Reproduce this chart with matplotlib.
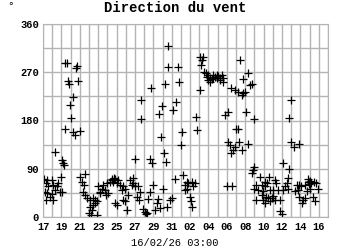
import matplotlib
matplotlib.use("Agg")
import matplotlib.pyplot as plt
from matplotlib.ticker import MultipleLocator

# days since 17/01 00:00, wind direction in degrees
days_a = [0.1, 0.47, 0.95, 0.3, 0.58, 1.12, 1.49, 1.66, 1.92, 1.3, 1.85, 0.22,
          0.4, 0.95, 0.33, 1.05, 0.76, 2.03, 1.3, 2.03, 2.15, 2.3]
dirs_a = [70, 69, 69, 63, 57, 60, 57, 63, 75, 50, 47, 47,
          44, 43, 32, 32, 38, 47, 122, 106, 101, 97]

days_b = [2.39, 2.61, 2.72, 2.83, 2.97, 3.04, 3.29, 3.59, 3.66, 3.84, 2.39, 3.26, 3.48, 4.02]
dirs_b = [288, 288, 254, 249, 209, 185, 224, 277, 282, 254, 164, 158, 153, 160]

days_c = [4.02, 4.57, 4.27, 4.46, 4.32, 4.57, 4.82, 5.11, 5.47, 5.65, 5.11, 5.29,
          5.03, 5.18, 5.84, 6.2, 6.01, 6.38, 6.55, 6.74, 7.1, 6.92, 7.28, 7.47,
          7.72, 5.6, 5.4, 5.85, 6.2, 6.9]
dirs_c = [74, 81, 66, 60, 47, 41, 35, 32, 35, 32, 18, 13,
          7, 4, 4, 47, 57, 53, 60, 50, 44, 63, 66, 69,
          72, 26, 22, 30, 44, 41]

days_d = [7.47, 7.83, 8.18, 7.64, 8.01, 8.37, 8.66, 8.55, 8.91, 9.46, 9.75, 9.64,
          10.0, 10.36, 10.54, 10.18, 10.47, 9.1, 8.73, 9.27, 10.9, 11.09, 11.27,
          11.2, 11.63, 11.45, 11.99, 12.53, 12.36, 12.17, 13.08, 13.8, 13.99,
          14.35, 9.82, 7.83, 8.01, 8.9, 12.7, 13.5]
dirs_d = [70, 70, 69, 66, 63, 60, 57, 50, 53, 69, 64, 60,
          57, 57, 47, 38, 32, 13, 32, 41, 14, 10, 8,
          6, 47, 33, 60, 33, 26, 13, 53, 32, 35,
          70, 72, 26, 22, 29, 16, 18]

days_e = [10.0, 11.6, 11.9, 10.7, 10.7, 11.8, 12.6, 12.9, 12.8, 13.2, 13.4, 13.3,
          13.6, 13.6, 14.7, 14.8, 14.1, 14.5, 15.1, 15.0]
dirs_e = [108, 108, 100, 218, 182, 240, 192, 207, 150, 119, 103, 249,
          319, 279, 279, 251, 200, 215, 158, 134]

days_f = [15.25, 15.62, 15.79, 15.43, 16.16, 16.52, 16.34, 15.43, 15.62, 15.98,
          16.05, 16.16, 16.8, 17.1, 17.4, 17.3, 17.2, 17.5, 17.1, 16.6]
dirs_f = [78, 66, 63, 60, 66, 63, 57, 50, 53, 37,
          29, 19, 162, 299, 298, 292, 283, 271, 236, 187]

days_g = [17.72, 17.97, 18.15, 17.97, 18.34, 18.51, 18.7, 18.88, 19.05, 19.24,
          19.42, 19.6, 18.15, 19.24, 19.6, 17.79, 18.51, 18.88]
dirs_g = [268, 265, 260, 255, 257, 265, 262, 259, 263, 260,
          265, 260, 252, 255, 252, 262, 259, 265]

days_h = [20.5, 20.9, 21.2, 21.6, 21.96, 21.77, 21.77, 22.3, 22.5, 21.4, 22.1,
          19.8, 20.1, 23.0, 20.1, 20.3, 20.9, 20.7, 20.5, 21.3, 21.6, 22.3,
          21.0, 21.2, 20.0, 20.6]
dirs_h = [240, 237, 234, 228, 234, 231, 257, 268, 246, 293, 196,
          190, 196, 182, 140, 134, 131, 125, 119, 140, 125, 136,
          165, 164, 57, 57]

days_i = [22.7, 22.9, 22.7, 22.8, 23.6, 24.1, 24.4, 24.6, 25.2, 23.2, 23.8,
          24.2, 24.7, 23.4, 23.0, 23.9, 25.0, 25.6, 25.4, 26.1, 26.3, 26.7,
          26.5, 26.6, 23.2, 23.9, 24.1, 24.5, 24.9, 25.0, 25.2, 25.8, 24.7,
          24.3, 23.8, 25.8, 26.05, 27.0, 27.3, 27.9, 26.1, 26.8, 27.0, 26.8]
dirs_i = [249, 93, 83, 88, 74, 66, 63, 74, 69, 60, 60,
          57, 50, 50, 53, 49, 50, 50, 63, 50, 57, 72,
          63, 53, 32, 32, 26, 35, 35, 39, 32, 32, 29,
          38, 41, 12, 6, 139, 131, 136, 100, 89, 219, 184]

days_j = [27.6, 27.9, 28.1, 28.5, 28.9, 29.2, 29.5, 29.75, 28.7, 27.75, 27.4,
          29.0, 29.9, 29.4, 29.6, 27.9, 28.3, 28.2, 28.5, 28.8, 29.1, 28.9]
dirs_j = [60, 60, 57, 60, 66, 63, 66, 64, 49, 50, 49,
          53, 53, 38, 29, 38, 32, 26, 35, 70, 68, 62]

days = (days_a + days_b + days_c + days_d + days_e + days_f + days_g
        + days_h + days_i + days_j)
dirs = (dirs_a + dirs_b + dirs_c + dirs_d + dirs_e + dirs_f + dirs_g
        + dirs_h + dirs_i + dirs_j)

x_ticks = list(range(0, 31, 2))
x_labels = ["17", "19", "21", "23", "25", "27", "29", "31",
            "02", "04", "06", "08", "10", "12", "14", "16"]
y_ticks = [0, 90, 180, 270, 360]

MONO = "Liberation Mono"
GRID = "#b4b4b4"

fig = plt.figure(figsize=(3.5, 2.5), dpi=100)
ax = fig.add_axes([0.123, 0.132, 0.814, 0.772])

ax.plot(days, dirs, linestyle="none", marker="+", color="black",
        markersize=6, markeredgewidth=0.9)

ax.set_xlim(0, 31)
ax.set_ylim(0, 360)
ax.set_xticks(x_ticks)
ax.set_xticklabels(x_labels)
ax.set_yticks(y_ticks)
ax.xaxis.set_minor_locator(MultipleLocator(1))
ax.yaxis.set_minor_locator(MultipleLocator(45))
ax.grid(which="both", color=GRID, linewidth=1)
ax.set_axisbelow(True)
ax.tick_params(axis="x", which="both", length=0, pad=3.5)
ax.tick_params(axis="y", which="both", length=0, pad=3)
for lab in ax.get_xticklabels() + ax.get_yticklabels():
    lab.set_fontfamily(MONO)
    lab.set_fontweight("bold")
    lab.set_fontsize(7.5)
for sp in ax.spines.values():
    sp.set_color(GRID)

fig.text(0.5, 0.968, "Direction du vent", ha="center", va="center",
         fontfamily=MONO, fontweight="bold", fontsize=10)
fig.text(0.5, 0.028, "16/02/26 03:00", ha="center", va="center",
         fontfamily=MONO, fontsize=7.5)
fig.text(0.03, 0.975, "°", ha="center", va="center",
         fontfamily=MONO, fontsize=8)

fig.savefig("out.png", dpi=100)
